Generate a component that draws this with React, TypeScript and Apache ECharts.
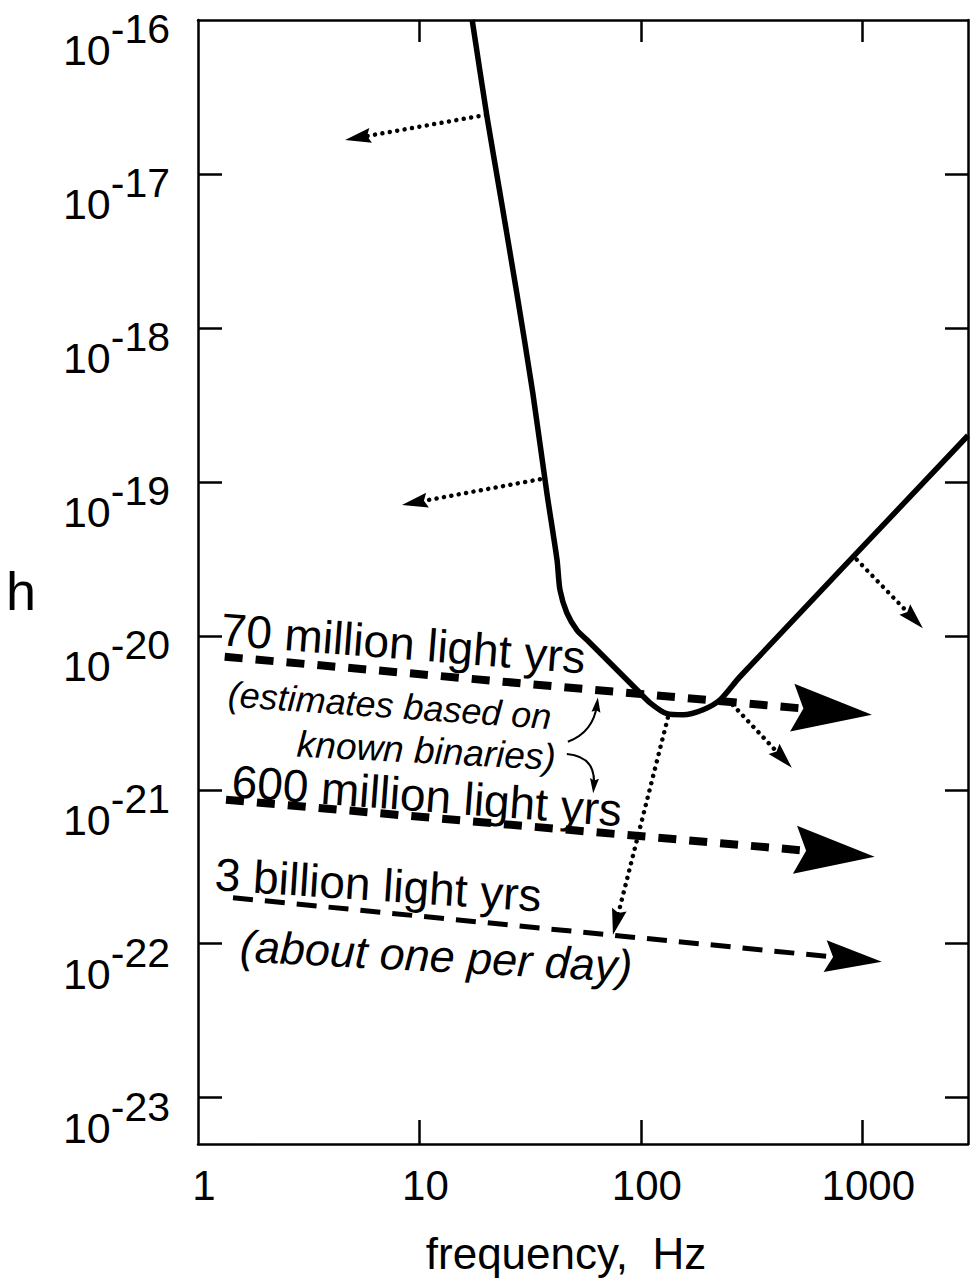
import React, { useEffect, useRef } from "react";
import * as echarts from "echarts";

// ---- axis ticks / labels ----
const xLabelValues = [1, 10, 100, 1000];
const xTickValues = [10, 100, 1000];
const yLabelValues = [1e-23, 1e-22, 1e-21, 1e-20, 1e-19, 1e-18, 1e-17, 1e-16];
const yTickValues = [1e-23, 1e-22, 1e-21, 1e-20, 1e-19, 1e-18, 1e-17];

// ---- detector sensitivity curve (frequency Hz, strain h) ----
const noiseFreq = [17.3, 20.2, 23.1, 27.5, 32.5, 37.6, 41.8, 43.1, 46.3, 51.4, 57.0, 70.2, 95.9, 110, 131, 155, 191, 228, 280, 3000];
const noiseStrain = [1e-16, 2.34e-17, 7.53e-18, 1.69e-18, 3.78e-19, 8.5e-20, 3.12e-20, 1.99e-20, 1.41e-20, 1.09e-20, 9.42e-21, 6.99e-21, 4.46e-21, 3.67e-21, 3.12e-21, 3.07e-21, 3.31e-21, 3.84e-21, 5.42e-21, 2.0e-19];

// ---- source strength lines (start, arrow) ----
const line70MFreq = [1.32, 730];
const line70MStrain = [7.31e-21, 3.24e-21];
const line600MFreq = [1.338, 751];
const line600MStrain = [8.61e-22, 3.87e-22];
const line3BFreq = [1.439, 912];
const line3BStrain = [1.99e-22, 7.96e-23];

// ---- dotted pointer arrows (from curve) ----
const pointerFromFreq = [19.96, 35.0, 944, 260, 132.4];
const pointerFromStrain = [2.42e-17, 1.04e-19, 3.12e-20, 3.56e-21, 2.94e-21];
const pointerToFreq = [5.27, 9.52, 1708, 438, 77.3];
const pointerToStrain = [1.72e-17, 7.34e-20, 1.29e-20, 1.6e-21, 1.38e-22];

// ---- small curved note arrows ----
const noteFromFreq = [46.8, 46.3];
const noteFromStrain = [2.05e-21, 1.71e-21];
const noteToFreq = [63.3, 61.3];
const noteToStrain = [3.56e-21, 1.06e-21];

const FONT = "'Liberation Sans', Arial, Helvetica, sans-serif";
const ARROW = "path://M50,0L100,100L50,86L0,100Z";
const deg = Math.PI / 180;

export default function App() {
  const ref = useRef<HTMLDivElement>(null);

  useEffect(() => {
    if (!ref.current) return;
    const chart = echarts.init(ref.current, null, { renderer: "svg" });

    const pair = (fs: number[], hs: number[]) => fs.map((f, i) => [f, hs[i]]);
    const seg = (fa: number[], ha: number[], fb: number[], hb: number[]) =>
      fa.map((f, i) => ({ coords: [[f, ha[i]], [fb[i], hb[i]]] }));

    const axisLine = { show: true, onZero: false, lineStyle: { color: "#000", width: 2.5 } };
    const tickStyle = { color: "#000", width: 2.5 };

    const option: any = {
      animation: false,
      backgroundColor: "#fff",
      textStyle: { fontFamily: FONT, color: "#000" },
      grid: { left: 198, top: 20, width: 770, height: 1124, containLabel: false, outerBoundsMode: "none" },
      xAxis: [
        {
          type: "log",
          logBase: 10,
          min: 1,
          max: 3000,
          position: "bottom",
          axisLine,
          axisTick: { show: true, inside: true, length: 24, lineStyle: tickStyle, customValues: xTickValues },
          axisLabel: {
            customValues: xLabelValues,
            formatter: (v: number) => String(Math.round(v)),
            fontSize: 42,
            fontFamily: FONT,
            color: "#000",
            margin: 20,
            padding: [0, 0, 0, 12],
          },
          splitLine: { show: false },
        },
        {
          type: "log",
          logBase: 10,
          min: 1,
          max: 3000,
          position: "top",
          axisLine,
          axisTick: { show: true, inside: true, length: 22, lineStyle: tickStyle, customValues: xTickValues },
          axisLabel: { show: false },
          splitLine: { show: false },
        },
      ],
      yAxis: [
        {
          type: "log",
          logBase: 10,
          min: 5e-24,
          max: 1e-16,
          position: "left",
          axisLine,
          axisTick: { show: true, inside: true, length: 24, lineStyle: tickStyle, customValues: yTickValues },
          axisLabel: {
            customValues: yLabelValues,
            margin: 28,
            formatter: (v: number) => `{b|10}{s|-${Math.round(-Math.log10(v))}}`,
            rich: {
              b: { fontSize: 43, fontFamily: FONT, color: "#000", padding: [60, 0, 0, 0], verticalAlign: "top" },
              s: { fontSize: 41, fontFamily: FONT, color: "#000", padding: [40, 0, 0, 0], verticalAlign: "top" },
            },
          },
          splitLine: { show: false },
        },
        {
          type: "log",
          logBase: 10,
          min: 5e-24,
          max: 1e-16,
          position: "right",
          axisLine,
          axisTick: { show: true, inside: true, length: 23, lineStyle: tickStyle, customValues: yTickValues },
          axisLabel: { show: false },
          splitLine: { show: false },
        },
      ],
      series: [
        {
          type: "line",
          name: "sensitivity",
          data: pair(noiseFreq, noiseStrain),
          showSymbol: false,
          symbol: "none",
          smooth: 0.25,
          lineStyle: { color: "#000", width: 5.5, join: "round" },
          z: 4,
        },
        {
          type: "lines",
          coordinateSystem: "cartesian2d",
          data: [
            ...seg([line70MFreq[0]], [line70MStrain[0]], [line70MFreq[1]], [line70MStrain[1]]),
            ...seg([line600MFreq[0]], [line600MStrain[0]], [line600MFreq[1]], [line600MStrain[1]]),
          ],
          symbol: ["none", ARROW],
          symbolSize: [1, [48, 80]],
          itemStyle: { color: "#000" },
          lineStyle: { color: "#000", width: 8, type: [18, 13], cap: "butt", opacity: 1 },
          z: 3,
        },
        {
          type: "lines",
          coordinateSystem: "cartesian2d",
          data: seg([line3BFreq[0]], [line3BStrain[0]], [line3BFreq[1]], [line3BStrain[1]]),
          symbol: ["none", ARROW],
          symbolSize: [1, [32, 57]],
          itemStyle: { color: "#000" },
          lineStyle: { color: "#000", width: 5, type: [20, 12], cap: "butt", opacity: 1 },
          z: 3,
        },
        {
          type: "lines",
          coordinateSystem: "cartesian2d",
          data: seg(pointerFromFreq, pointerFromStrain, pointerToFreq, pointerToStrain),
          symbol: ["none", ARROW],
          symbolSize: [1, [15, 26]],
          itemStyle: { color: "#000" },
          lineStyle: { color: "#000", width: 4.5, type: [0.01, 7.5], cap: "round", opacity: 1 },
          z: 3,
        },
        {
          type: "lines",
          coordinateSystem: "cartesian2d",
          data: seg(noteFromFreq, noteFromStrain, noteToFreq, noteToStrain).map((d, i) => ({
            ...d,
            lineStyle: { curveness: i === 0 ? -0.3 : 0.5 },
          })),
          symbol: ["none", ARROW],
          symbolSize: [1, [9, 15]],
          itemStyle: { color: "#000" },
          lineStyle: { color: "#000", width: 2, opacity: 1 },
          z: 3,
        },
      ],
      graphic: [
        { type: "text", x: 6, y: 591, style: { text: "h", fontSize: 54, fontFamily: FONT, fill: "#000", verticalAlign: "middle" } },
        { type: "text", x: 566, y: 1253, style: { text: "frequency,\u00a0 Hz", fontSize: 44, fontFamily: FONT, fill: "#000", align: "center", verticalAlign: "middle" } },
        { type: "text", x: 221, y: 629, rotation: -4.5 * deg, style: { text: "70 million light yrs", fontSize: 46, fontFamily: FONT, fill: "#000", verticalAlign: "middle" } },
        { type: "text", x: 228, y: 694, rotation: -4 * deg, style: { text: "(estimates based on", fontSize: 36, fontStyle: "italic", fontFamily: FONT, fill: "#000", verticalAlign: "middle" } },
        { type: "text", x: 297, y: 744, rotation: -3 * deg, style: { text: "known binaries)", fontSize: 37, fontStyle: "italic", fontFamily: FONT, fill: "#000", verticalAlign: "middle" } },
        { type: "text", x: 232, y: 781, rotation: -4.3 * deg, style: { text: "600 million light yrs", fontSize: 46, fontFamily: FONT, fill: "#000", verticalAlign: "middle" } },
        { type: "text", x: 215, y: 874, rotation: -3.8 * deg, style: { text: "3 billion light yrs", fontSize: 46, fontFamily: FONT, fill: "#000", verticalAlign: "middle" } },
        { type: "text", x: 240, y: 946, rotation: -3 * deg, style: { text: "(about one per day)", fontSize: 45, fontStyle: "italic", fontFamily: FONT, fill: "#000", verticalAlign: "middle" } },
      ],
    };

    chart.setOption(option);
    return () => chart.dispose();
  }, []);

  return <div ref={ref} style={{ position: "absolute", left: 0, top: 0, width: 976, height: 1284 }} />;
}
